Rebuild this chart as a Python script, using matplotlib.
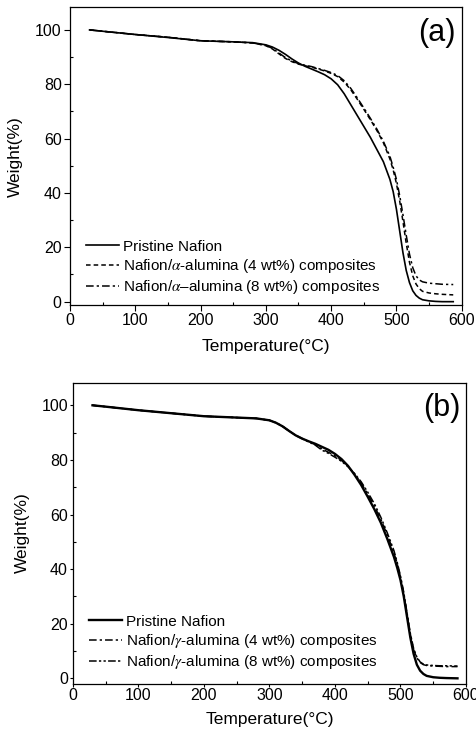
import matplotlib.pyplot as plt
from matplotlib.ticker import MultipleLocator

plt.rcParams['font.family'] = ['Liberation Sans', 'DejaVu Sans']
plt.rcParams['mathtext.fontset'] = 'stix'

# temperature grid (degC)
temp = [30, 50, 100, 150, 200, 250, 280, 300, 310, 320, 330, 340, 350, 360, 370,
        380, 390, 400, 410, 420, 430, 440, 450, 460, 470, 480, 490, 495, 500, 505,
        510, 515, 520, 525, 530, 535, 540, 550, 560, 570, 587]

# panel (a)
a_pristine = [100, 99.5, 98.3, 97.2, 96.0, 95.6, 95.3, 94.5, 93.7, 92.5, 91.0, 89.3, 87.8, 86.6, 85.6,
              84.6, 83.5, 82.0, 79.8, 76.5, 72.5, 68.5, 64.5, 60.5, 56.0, 51.5, 45.0, 40.5, 34.0, 26.0,
              18.0, 11.5, 7.0, 4.0, 2.3, 1.3, 0.7, 0.3, 0.1, 0.0, 0.0]
a_alpha4 = [100, 99.5, 98.3, 97.3, 96.0, 95.6, 95.2, 94.2, 93.0, 91.2, 89.5, 88.3, 87.4, 86.8, 86.3,
            85.6, 84.9, 84.0, 82.8, 80.8, 78.0, 74.5, 70.8, 67.0, 63.0, 58.5, 52.5, 48.5, 43.5, 37.0,
            29.5, 21.5, 14.5, 9.5, 6.5, 4.8, 3.8, 3.2, 2.9, 2.7, 2.5]
a_alpha8 = [100, 99.5, 98.3, 97.3, 96.0, 95.6, 95.2, 94.3, 93.2, 91.5, 89.8, 88.5, 87.6, 87.0, 86.5,
            85.8, 85.1, 84.3, 83.2, 81.3, 78.5, 75.0, 71.3, 67.5, 63.5, 59.0, 53.5, 49.5, 45.0, 39.0,
            32.0, 24.5, 17.5, 12.5, 9.5, 8.0, 7.3, 6.8, 6.6, 6.4, 6.3]

# panel (b)
b_pristine = [100, 99.5, 98.2, 97.1, 96.0, 95.5, 95.2, 94.5, 93.6, 92.3, 90.6, 89.0, 87.8, 86.8, 85.9,
              84.8, 83.7, 82.2, 80.3, 77.8, 74.5, 70.8, 66.5, 62.0, 57.0, 51.0, 44.5, 40.5, 36.0, 30.0,
              22.5, 15.0, 9.0, 5.0, 2.8, 1.6, 0.9, 0.4, 0.2, 0.1, 0.0]
b_gamma4 = [100, 99.5, 98.2, 97.1, 96.0, 95.5, 95.2, 94.5, 93.6, 92.3, 90.6, 89.0, 87.8, 86.7, 85.6,
            84.0, 82.8, 81.5, 79.8, 77.6, 74.8, 71.5, 67.5, 63.2, 58.2, 52.5, 46.0, 42.0, 37.0, 31.0,
            23.5, 16.0, 10.5, 7.5, 5.8, 5.0, 4.7, 4.5, 4.4, 4.3, 4.3]
b_gamma8 = [100, 99.5, 98.2, 97.1, 96.0, 95.5, 95.2, 94.5, 93.6, 92.3, 90.6, 89.0, 87.8, 86.6, 85.4,
            83.6, 82.4, 81.0, 79.5, 77.5, 75.0, 72.0, 68.2, 64.0, 59.0, 53.2, 46.8, 42.5, 37.5, 31.5,
            24.0, 16.5, 11.0, 7.8, 6.0, 5.2, 4.9, 4.7, 4.6, 4.6, 4.5]

fig = plt.figure(figsize=(4.76, 7.33), dpi=100)
ax1 = fig.add_axes([0.147, 0.584, 0.823, 0.406])
ax2 = fig.add_axes([0.153, 0.0675, 0.826, 0.4105])

ax1.plot(temp, a_pristine, color='black', lw=1.2, ls='-', label='Pristine Nafion')
ax1.plot(temp, a_alpha4, color='black', lw=1.1, ls=(0, (3, 2)),
         label=r'Nafion/$\alpha$-alumina (4 wt%) composites')
ax1.plot(temp, a_alpha8, color='black', lw=1.1, ls=(0, (5, 2, 1.5, 2)),
         label=r'Nafion/$\alpha$–alumina (8 wt%) composites')

ax2.plot(temp, b_pristine, color='black', lw=1.7, ls='-', label='Pristine Nafion')
ax2.plot(temp, b_gamma4, color='black', lw=1.1, ls=(0, (5, 2, 1.5, 2)),
         label=r'Nafion/$\gamma$-alumina (4 wt%) composites')
ax2.plot(temp, b_gamma8, color='black', lw=1.1, ls=(0, (5, 1.5, 1.5, 1.5, 1.5, 1.5)),
         label=r'Nafion/$\gamma$-alumina (8 wt%) composites')

panels = [(ax1, '(a)', -1.2, 9, 8, 4, 2, 0.008),
          (ax2, '(b)', -1.9, 8, 6, 2.5, 1, 0.020)]
for ax, tag, ylo, ylpad, xlpad, tlen, tpad, legy in panels:
    ax.set_xlim(0, 600)
    ax.set_ylim(ylo, 108.3)
    ax.set_xticks([0, 100, 200, 300, 400, 500, 600])
    ax.set_yticks([0, 20, 40, 60, 80, 100])
    ax.xaxis.set_minor_locator(MultipleLocator(50))
    ax.yaxis.set_minor_locator(MultipleLocator(10))
    ax.tick_params(which='major', direction='out', length=tlen, width=0.8, labelsize=11.5, pad=tpad)
    ax.tick_params(which='minor', direction='in', length=2.5, width=0.8)
    ax.set_xlabel('Temperature(°C)', fontsize=12.5, labelpad=xlpad)
    ax.set_ylabel('Weight(%)', fontsize=12.5, labelpad=ylpad)
    for s in ax.spines.values():
        s.set_linewidth(0.9)
    ax.text(0.985, 0.965, tag, transform=ax.transAxes, ha='right', va='top', fontsize=22)
    ax.legend(loc='lower left', bbox_to_anchor=(0.025, legy), frameon=False, fontsize=11,
              handlelength=2.15, handletextpad=0.3, labelspacing=0.22, borderaxespad=0.0)

fig.savefig('out.png', dpi=100)
